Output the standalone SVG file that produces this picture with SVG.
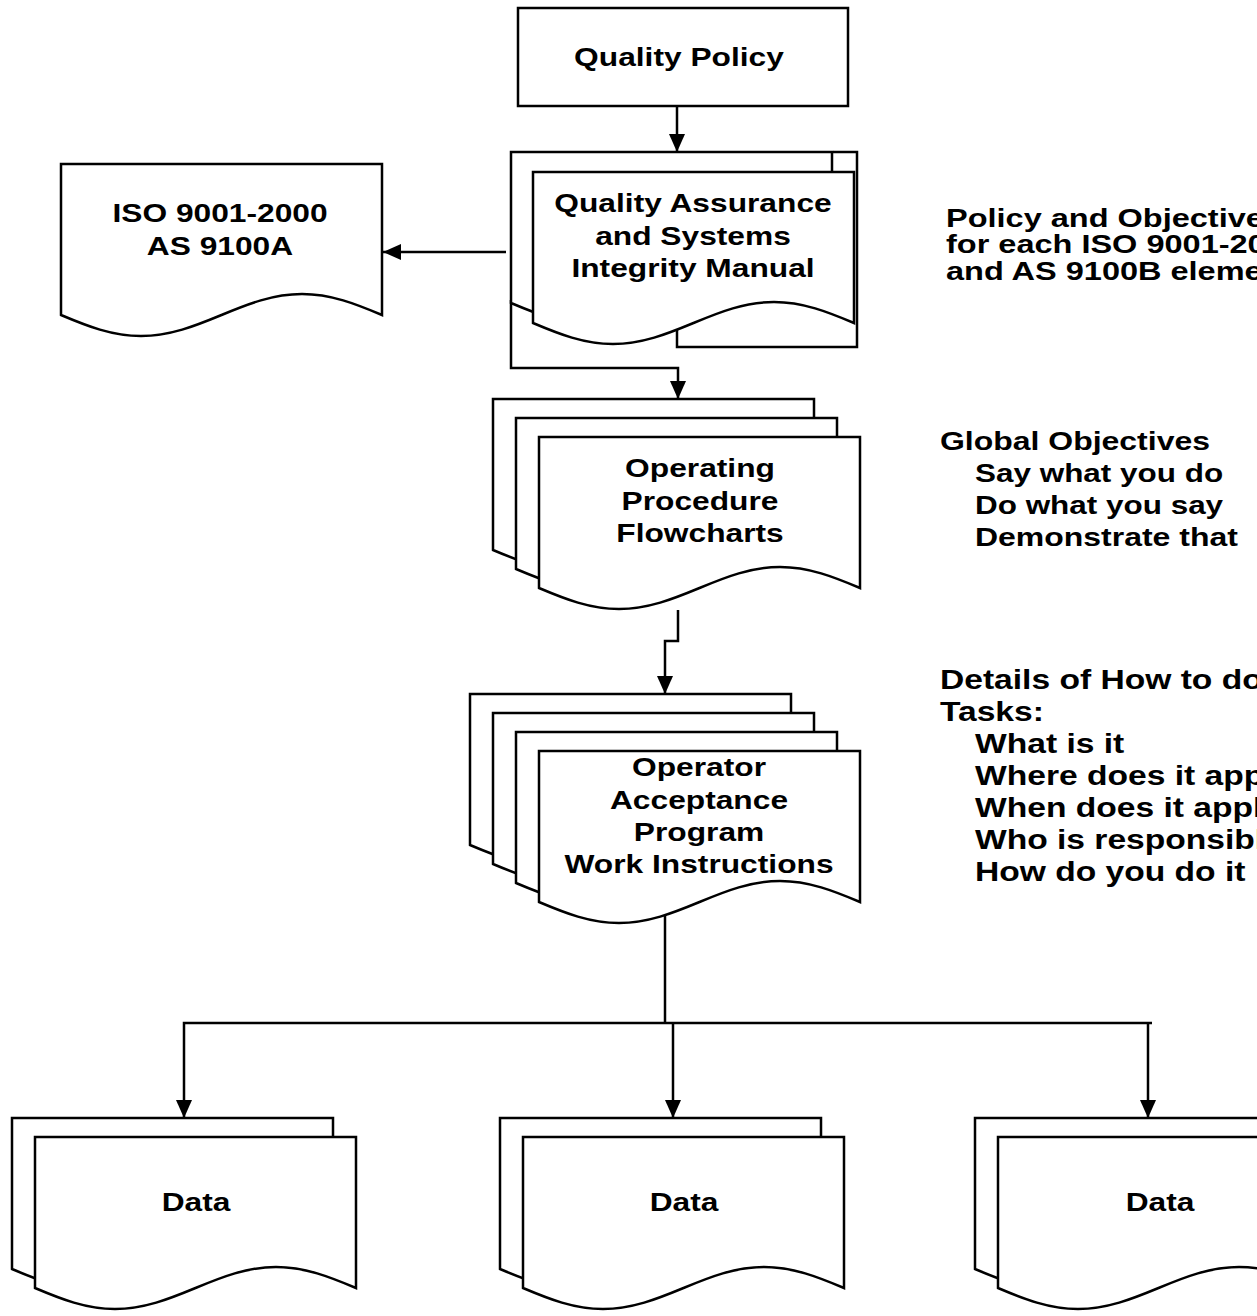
<svg xmlns="http://www.w3.org/2000/svg" xmlns:xlink="http://www.w3.org/1999/xlink" width="1257" height="1316" viewBox="0 0 1257 1316">
<style>
.shape{fill:#fff;stroke:#000;stroke-width:2.5}
.frame{fill:none;stroke:#000;stroke-width:2.5}
.conn{fill:none;stroke:#000;stroke-width:2.5}
.t{font-family:"Liberation Sans",Arial,sans-serif;font-weight:bold;font-size:26px;fill:#000}
.c{text-anchor:middle}
.lg{font-size:28px}
</style>
<defs>
<path id="doc" class="shape" d="M0,151 C26,162 51,172 80,172 C109,172 134,162 160.5,151 C187,140 212,130 241,130 C270,130 295,140 321,151 V0 H0 Z"/>
<marker id="arrow" markerUnits="userSpaceOnUse" markerWidth="18" markerHeight="16" refX="18" refY="8" orient="auto">
<path d="M0,0 L18,8 L0,16 Z" fill="#000"/>
</marker>
</defs>
<rect width="1257" height="1316" fill="#fff"/>

<g id="connectors">
<path class="conn" d="M677,106 V152" marker-end="url(#arrow)"/>
<path class="conn" d="M506,252 H383" marker-end="url(#arrow)"/>
<path class="conn" d="M511,300 V368 H678 V399" marker-end="url(#arrow)"/>
<path class="conn" d="M678,610 V641 H665 V694" marker-end="url(#arrow)"/>
<path class="conn" d="M665,915 V1023"/>
<path class="conn" d="M1152,1023 H184 V1118" marker-end="url(#arrow)"/>
<path class="conn" d="M673,1023 V1118" marker-end="url(#arrow)"/>
<path class="conn" d="M1148,1023 V1118" marker-end="url(#arrow)"/>
</g>

<g id="quality-policy">
<rect class="shape" x="518" y="8" width="330" height="98"/>
<text class="t c" transform="translate(679,66) scale(1.22,1)">Quality Policy</text>
</g>

<g id="iso">
<use href="#doc" xlink:href="#doc" x="61" y="164"/>
<text class="t c" transform="translate(220,222) scale(1.22,1)">ISO 9001-2000</text>
<text class="t c" transform="translate(220,255) scale(1.22,1)">AS 9100A</text>
</g>

<g id="manual">
<path class="frame" d="M677,325 V347 H857 V152 H833"/>
<use href="#doc" xlink:href="#doc" x="511" y="152"/>
<use href="#doc" xlink:href="#doc" x="533" y="172"/>
<text class="t c" transform="translate(693,212) scale(1.22,1)">Quality Assurance</text>
<text class="t c" transform="translate(693,245) scale(1.22,1)">and Systems</text>
<text class="t c" transform="translate(693,277) scale(1.22,1)">Integrity Manual</text>
</g>

<g id="procedures">
<use href="#doc" xlink:href="#doc" x="493" y="399"/>
<use href="#doc" xlink:href="#doc" x="516" y="418"/>
<use href="#doc" xlink:href="#doc" x="539" y="437"/>
<text class="t c" transform="translate(700,477) scale(1.22,1)">Operating</text>
<text class="t c" transform="translate(700,510) scale(1.22,1)">Procedure</text>
<text class="t c" transform="translate(700,542) scale(1.22,1)">Flowcharts</text>
</g>

<g id="work-instructions">
<use href="#doc" xlink:href="#doc" x="470" y="694"/>
<use href="#doc" xlink:href="#doc" x="493" y="713"/>
<use href="#doc" xlink:href="#doc" x="516" y="732"/>
<use href="#doc" xlink:href="#doc" x="539" y="751"/>
<text class="t c" transform="translate(699,776) scale(1.22,1)">Operator</text>
<text class="t c" transform="translate(699,809) scale(1.22,1)">Acceptance</text>
<text class="t c" transform="translate(699,841) scale(1.22,1)">Program</text>
<text class="t c" transform="translate(699,873) scale(1.22,1)">Work Instructions</text>
</g>

<g id="data-1">
<use href="#doc" xlink:href="#doc" x="12" y="1118"/>
<use href="#doc" xlink:href="#doc" x="35" y="1137"/>
<text class="t c" transform="translate(196,1211) scale(1.22,1)">Data</text>
</g>
<g id="data-2">
<use href="#doc" xlink:href="#doc" x="500" y="1118"/>
<use href="#doc" xlink:href="#doc" x="523" y="1137"/>
<text class="t c" transform="translate(684,1211) scale(1.22,1)">Data</text>
</g>
<g id="data-3">
<use href="#doc" xlink:href="#doc" x="975" y="1118"/>
<use href="#doc" xlink:href="#doc" x="998" y="1137"/>
<text class="t c" transform="translate(1160,1211) scale(1.22,1)">Data</text>
</g>

<g id="note-policy">
<text class="t" transform="translate(946,227) scale(1.25,1)">Policy and Objectives</text>
<text class="t" transform="translate(946,253) scale(1.25,1)">for each ISO 9001-2000</text>
<text class="t" transform="translate(946,280) scale(1.25,1)">and AS 9100B elements</text>
</g>

<g id="note-global">
<text class="t" transform="translate(940,450) scale(1.23,1)">Global Objectives</text>
<text class="t" transform="translate(975,482) scale(1.21,1)">Say what you do</text>
<text class="t" transform="translate(975,514) scale(1.21,1)">Do what you say</text>
<text class="t" transform="translate(975,546) scale(1.23,1)">Demonstrate that</text>
</g>

<g id="note-details">
<text class="t lg" transform="translate(940,689) scale(1.2,1)">Details of How to do</text>
<text class="t lg" transform="translate(940,721) scale(1.2,1)">Tasks:</text>
<text class="t lg" transform="translate(975,753) scale(1.2,1)">What is it</text>
<text class="t lg" transform="translate(975,785) scale(1.2,1)">Where does it apply</text>
<text class="t lg" transform="translate(975,817) scale(1.2,1)">When does it apply</text>
<text class="t lg" transform="translate(975,849) scale(1.2,1)">Who is responsible</text>
<text class="t lg" transform="translate(975,881) scale(1.2,1)">How do you do it</text>
</g>
</svg>
